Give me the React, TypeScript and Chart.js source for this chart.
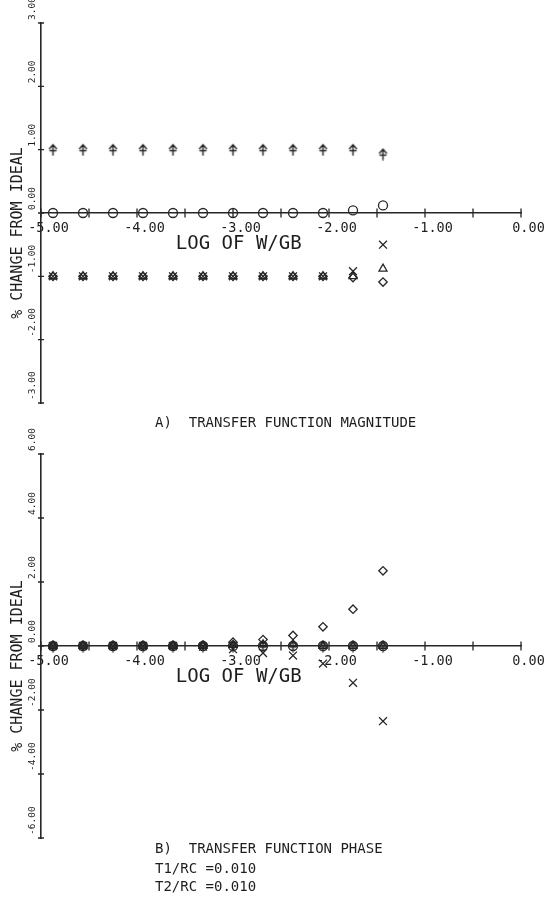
import React, { useEffect, useRef } from 'react';
import { Chart, registerables } from 'chart.js';

Chart.register(...registerables);

// log10(W/GB) sample positions (shared by both panels)
const xValues = [-4.875, -4.5625, -4.25, -3.9375, -3.625, -3.3125, -3.0, -2.6875, -2.375, -2.0625, -1.75, -1.4375];

// A) transfer function magnitude, % change from ideal
const magArrow = [1, 1, 1, 1, 1, 1, 1, 1, 1, 1, 1, 0.93];
const magCircle = [0, 0, 0, 0, 0, 0, 0, 0, 0, 0, 0.04, 0.12];
const magTriangle = [-1, -1, -1, -1, -1, -1, -1, -1, -1, -1, -1.0, -0.88];
const magDiamond = [-1, -1, -1, -1, -1, -1, -1, -1, -1, -1, -1.02, -1.09];
const magCross = [-1, -1, -1, -1, -1, -1, -1, -1, -1, -1, -0.92, -0.5];

// B) transfer function phase, % change from ideal
const phArrow = [0, 0, 0, 0, 0, 0, 0, 0, 0, 0, 0, 0];
const phCircle = [0, 0, 0, 0, 0, 0, 0, 0, 0, 0, 0, 0];
const phTriangle = [0, 0, 0, 0, 0, 0, 0.03, 0.05, 0.06, 0, 0, 0];
const phDiamond = [0, 0, 0, 0, 0, 0.02, 0.12, 0.2, 0.33, 0.6, 1.15, 2.35];
const phCross = [0, 0, 0, 0, 0, -0.02, -0.1, -0.22, -0.3, -0.55, -1.15, -2.35];

const xTitle = 'LOG OF W/GB';
const yTitle = '% CHANGE FROM IDEAL';
const captionA = ['A)  TRANSFER FUNCTION MAGNITUDE'];
const captionB = ['B)  TRANSFER FUNCTION PHASE', 'T1/RC =0.010', 'T2/RC =0.010'];

const INK = '#1e1e1e';
const LINE = '#262626';
const MONO = '"DejaVu Sans Mono", "Liberation Mono", monospace';

function makeArrow(): HTMLCanvasElement {
  const c = document.createElement('canvas');
  c.width = 11;
  c.height = 13;
  const g = c.getContext('2d')!;
  g.strokeStyle = LINE;
  g.lineWidth = 1.4;
  g.lineCap = 'round';
  g.beginPath();
  g.moveTo(5.5, 12);
  g.lineTo(5.5, 1.5);
  g.moveTo(2, 5.5);
  g.lineTo(5.5, 1.5);
  g.lineTo(9, 5.5);
  g.moveTo(2.5, 7.5);
  g.lineTo(8.5, 7.5);
  g.stroke();
  return c;
}

function ds(label: string, values: number[], style: any, radius: number) {
  return {
    label,
    data: values.map((y, i) => ({ x: xValues[i], y })),
    pointStyle: style,
    pointRadius: radius,
    pointBorderWidth: 1.3,
    borderColor: LINE,
    backgroundColor: 'rgba(0,0,0,0)',
    showLine: false,
  };
}

type Deco = {
  captions: string[];
  captionY: number[];
  yTitleShift: number;
};

function decoPlugin(cfg: Deco) {
  return {
    id: 'deco',
    afterDraw(chart: any) {
      const { ctx, chartArea } = chart;
      const xs = chart.scales.x;
      const ys = chart.scales.y;
      const y0 = ys.getPixelForValue(0);
      const left = chartArea.left;
      ctx.save();
      ctx.strokeStyle = LINE;
      ctx.lineWidth = 1.3;
      ctx.beginPath();
      xs.ticks.forEach((t: any) => {
        const px = xs.getPixelForValue(t.value);
        ctx.moveTo(px, y0 - 4.5);
        ctx.lineTo(px, y0 + 4.5);
      });
      ys.ticks.forEach((t: any) => {
        const py = ys.getPixelForValue(t.value);
        ctx.moveTo(left - 3, py);
        ctx.lineTo(left + 3, py);
      });
      ctx.stroke();

      ctx.fillStyle = INK;
      ctx.font = `9.5px ${MONO}`;
      ctx.textAlign = 'left';
      ctx.textBaseline = 'middle';
      ys.ticks.forEach((t: any) => {
        const py = ys.getPixelForValue(t.value);
        ctx.save();
        ctx.translate(left - 8, py - 3);
        ctx.rotate(-Math.PI / 2);
        ctx.fillText(Number(t.value).toFixed(2), 0, 0);
        ctx.restore();
      });

      ctx.font = `15px ${MONO}`;
      ctx.textAlign = 'center';
      ctx.save();
      ctx.translate(18, (chartArea.top + chartArea.bottom) / 2 + cfg.yTitleShift);
      ctx.rotate(-Math.PI / 2);
      ctx.fillText(yTitle, 0, 0);
      ctx.restore();

      ctx.font = `19px ${MONO}`;
      ctx.textAlign = 'center';
      ctx.fillText(xTitle, xs.getPixelForValue(-2.94), y0 + 31);

      ctx.font = `14px ${MONO}`;
      ctx.textAlign = 'left';
      cfg.captions.forEach((c, i) => ctx.fillText(c, 155, cfg.captionY[i]));
      ctx.restore();
    },
  };
}

function buildConfig(
  arrow: HTMLCanvasElement,
  series: number[][],
  yMax: number,
  yStep: number,
  padding: { top: number; bottom: number },
  deco: Deco
): any {
  const [a, c, t, d, x] = series;
  return {
    type: 'scatter',
    data: {
      datasets: [
        ds('circle', c, 'circle', 4.5),
        ds('arrow', a, arrow, 5),
        ds('triangle', t, 'triangle', 4.6),
        ds('diamond', d, 'rectRot', 4.2),
        ds('cross', x, 'crossRot', 5.6),
      ],
    },
    options: {
      animation: false,
      responsive: false,
      events: [],
      layout: { padding: { left: 41, right: 34, top: padding.top, bottom: padding.bottom } },
      plugins: { legend: { display: false }, tooltip: { enabled: false } },
      scales: {
        x: {
          type: 'linear',
          min: -5,
          max: 0,
          position: { y: 0 },
          grid: { display: false, drawTicks: false },
          border: { display: true, color: LINE, width: 1.6 },
          ticks: {
            stepSize: 0.5,
            autoSkip: false,
            maxRotation: 0,
            labelOffset: 7.5,
            padding: 7,
            color: INK,
            font: { family: MONO, size: 13.5 },
            callback: (v: number) => (Math.abs(v - Math.round(v)) < 1e-6 ? Math.round(v).toFixed(2) : ''),
          },
        },
        y: {
          type: 'linear',
          min: -yMax,
          max: yMax,
          grid: { display: false, drawTicks: false },
          border: { display: true, color: LINE, width: 1.6 },
          ticks: { display: false, stepSize: yStep },
        },
      },
    },
    plugins: [decoPlugin(deco)],
  };
}

// canvas B starts at page y = 420 (transparent, overlapping canvas A)
export default function App() {
  const refA = useRef<HTMLCanvasElement>(null);
  const refB = useRef<HTMLCanvasElement>(null);

  useEffect(() => {
    const arrow = makeArrow();
    const chartA = new Chart(
      refA.current!,
      buildConfig(arrow, [magArrow, magCircle, magTriangle, magDiamond, magCross], 3, 1, { top: 23, bottom: 37 }, {
        captions: captionA,
        captionY: [423.5],
        yTitleShift: 20,
      })
    );
    const chartB = new Chart(
      refB.current!,
      buildConfig(arrow, [phArrow, phCircle, phTriangle, phDiamond, phCross], 6, 2, { top: 34, bottom: 65 }, {
        captions: captionB,
        captionY: [429, 449, 467.5],
        yTitleShift: 20,
      })
    );
    return () => {
      chartA.destroy();
      chartB.destroy();
    };
  }, []);

  return (
    <div style={{ position: 'absolute', left: 0, top: 0, width: 555, height: 903, background: '#ffffff', overflow: 'hidden' }}>
      <canvas ref={refA} width={555} height={440} style={{ position: 'absolute', left: 0, top: 0, width: 555, height: 440 }} />
      <canvas ref={refB} width={555} height={483} style={{ position: 'absolute', left: 0, top: 420, width: 555, height: 483 }} />
    </div>
  );
}
